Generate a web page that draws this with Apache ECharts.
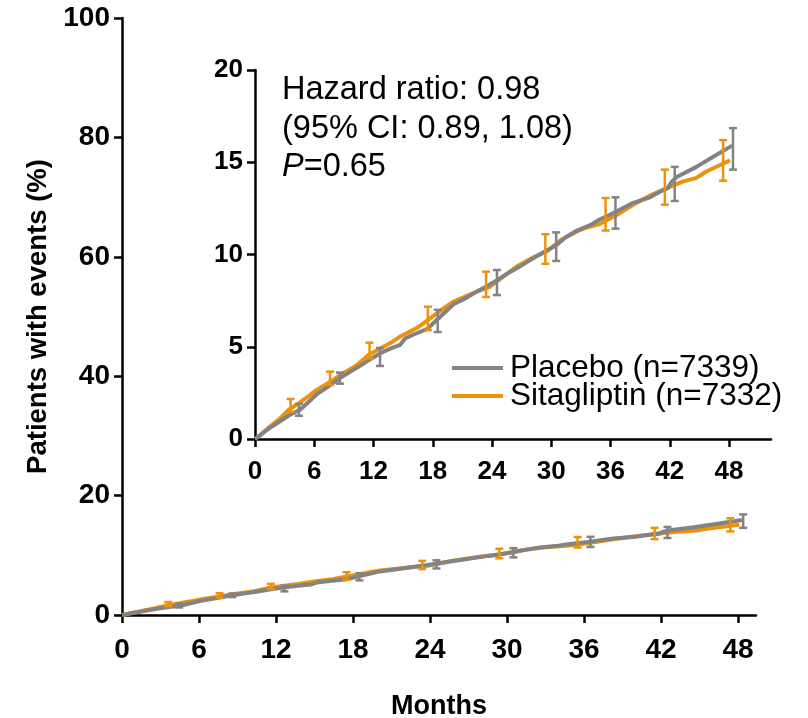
<!DOCTYPE html>
<html>
<head>
<meta charset="utf-8">
<script src="https://cdn.jsdelivr.net/npm/echarts@6/dist/echarts.min.js"></script>
<style>
  html, body { margin: 0; padding: 0; background: #fff; }
  #chart { width: 808px; height: 718px; }
</style>
</head>
<body>
<div id="chart"></div>
<script>
var monthTicks = [0, 6, 12, 18, 24, 30, 36, 42, 48];

var placeboMonths = [0, 0.5, 1.5, 2.5, 3.5, 4.6, 5.5, 6.2, 7.3, 8.6, 9.5, 10.6, 11.6, 12.7, 13.7, 14.7, 15.2, 16.0, 17.4, 18.7, 20.1, 21.4, 22.5, 23.4, 24.5, 25.5, 26.5, 28.5, 30.5, 31.5, 32.6, 34.0, 34.9, 36.3, 38.3, 40.0, 41.0, 41.8, 42.2, 42.7, 44.7, 46.4, 48.3];
var placeboPct = [0, 0.2, 0.6, 0.95, 1.3, 1.6, 2.05, 2.4, 2.8, 3.3, 3.6, 3.95, 4.3, 4.65, 4.9, 5.1, 5.45, 5.65, 5.95, 6.6, 7.3, 7.65, 8.0, 8.25, 8.6, 8.95, 9.25, 9.9, 10.5, 10.95, 11.3, 11.6, 11.9, 12.25, 12.8, 13.1, 13.4, 13.6, 13.95, 14.2, 14.75, 15.3, 15.9];

var sitaMonths = [0, 0.5, 1.7, 2.5, 3.4, 4.6, 5.5, 6.2, 7.3, 8.9, 10.3, 11.6, 12.5, 13.7, 14.7, 15.4, 16.5, 17.4, 18.5, 19.4, 20.1, 21.4, 22.5, 23.8, 25.0, 26.5, 28.0, 29.5, 31.0, 32.6, 33.5, 34.9, 36.5, 38.3, 40.0, 41.7, 43.3, 44.7, 45.7, 47.1, 48.1];
var sitaPct = [0, 0.2, 0.76, 1.1, 1.57, 2.0, 2.35, 2.65, 3.0, 3.55, 4.0, 4.6, 4.85, 5.2, 5.55, 5.75, 6.05, 6.4, 6.85, 7.2, 7.45, 7.75, 8.0, 8.25, 8.75, 9.35, 9.8, 10.15, 10.8, 11.25, 11.45, 11.65, 12.1, 12.7, 13.2, 13.6, 13.95, 14.15, 14.5, 14.85, 15.1];

var placeboErrMonths = [4.45, 8.6, 12.66, 18.5, 24.5, 30.5, 36.5, 42.5, 48.4];
var placeboLow = [1.26, 3.0, 3.96, 5.8, 7.8, 9.65, 11.4, 12.9, 14.6];
var placeboHigh = [1.9, 3.6, 4.93, 7.0, 9.16, 11.2, 13.1, 14.75, 16.85];

var sitaErrMonths = [3.6, 7.6, 11.6, 17.5, 23.4, 29.4, 35.5, 41.5, 47.4];
var sitaLow = [1.48, 2.93, 4.37, 5.9, 7.7, 9.5, 11.3, 12.7, 14.0];
var sitaHigh = [2.17, 3.65, 5.22, 7.17, 9.07, 11.1, 13.06, 14.6, 16.2];

var placeboName = 'Placebo (n=7339)';
var sitaName = 'Sitagliptin (n=7332)';
var grayColor = '#838383';
var orangeColor = '#EC930E';
var fontFamily = '"Liberation Sans", Arial, sans-serif';

function pairs(xs, ys) {
    return xs.map(function (x, i) { return [x, ys[i]]; });
}
function triples(xs, lo, hi) {
    return xs.map(function (x, i) { return [x, lo[i], hi[i]]; });
}

function ciBars(params, api) {
    var x = api.value(0);
    var lo = api.coord([x, api.value(1)]);
    var hi = api.coord([x, api.value(2)]);
    var w = 4;
    var style = { stroke: api.visual('color'), lineWidth: 2.5 };
    return {
        type: 'group',
        children: [
            { type: 'line', shape: { x1: lo[0], y1: lo[1], x2: hi[0], y2: hi[1] }, style: style },
            { type: 'line', shape: { x1: lo[0] - w, y1: lo[1], x2: lo[0] + w, y2: lo[1] }, style: style },
            { type: 'line', shape: { x1: hi[0] - w, y1: hi[1], x2: hi[0] + w, y2: hi[1] }, style: style }
        ]
    };
}

function xAxisCfg(gridIndex, max, fontSize, margin) {
    return {
        type: 'value',
        gridIndex: gridIndex,
        min: 0,
        max: max,
        splitLine: { show: false },
        axisLine: { lineStyle: { color: '#000', width: 2.5 } },
        axisTick: { customValues: monthTicks, length: 8, lineStyle: { color: '#000', width: 2.5 } },
        axisLabel: { customValues: monthTicks, fontSize: fontSize, fontWeight: 'bold', color: '#000', fontFamily: fontFamily, margin: margin }
    };
}

function yAxisCfg(gridIndex, max, interval, fontSize) {
    return {
        type: 'value',
        gridIndex: gridIndex,
        min: 0,
        max: max,
        interval: interval,
        splitLine: { show: false },
        axisLine: { show: true, lineStyle: { color: '#000', width: 2.5 } },
        axisTick: { show: true, length: 8, lineStyle: { color: '#000', width: 2.5 } },
        axisLabel: { fontSize: fontSize, fontWeight: 'bold', color: '#000', fontFamily: fontFamily, margin: 12 }
    };
}

function lineSeries(name, color, data, idx) {
    return {
        name: name,
        type: 'line',
        xAxisIndex: idx,
        yAxisIndex: idx,
        data: data,
        color: color,
        showSymbol: false,
        lineStyle: { color: color, width: 4 },
        z: 2
    };
}

function ciSeries(name, color, data, idx) {
    return {
        name: name,
        type: 'custom',
        xAxisIndex: idx,
        yAxisIndex: idx,
        itemStyle: { color: color },
        renderItem: ciBars,
        encode: { x: 0, y: [1, 2] },
        data: data,
        z: 3
    };
}

var chart = echarts.init(document.getElementById('chart'));

var mainX = xAxisCfg(0, 49.4, 28, 21);
mainX.name = 'Months';
mainX.nameLocation = 'middle';
mainX.nameGap = 78;
mainX.nameTextStyle = { fontSize: 27, fontWeight: 'bold', color: '#000', fontFamily: fontFamily };

var mainY = yAxisCfg(0, 100, 20, 28);
mainY.name = 'Patients with events (%)';
mainY.nameLocation = 'middle';
mainY.nameGap = 67;
mainY.nameTextStyle = { fontSize: 27.5, fontWeight: 'bold', color: '#000', fontFamily: fontFamily };

var placeboLine = pairs(placeboMonths, placeboPct);
var sitaLine = pairs(sitaMonths, sitaPct);
var placeboCI = triples(placeboErrMonths, placeboLow, placeboHigh);
var sitaCI = triples(sitaErrMonths, sitaLow, sitaHigh);

var option = {
    animation: false,
    backgroundColor: '#fff',
    textStyle: { fontFamily: fontFamily },
    grid: [
        { left: 122, top: 18, width: 634, height: 597, outerBoundsMode: 'none' },
        { left: 255, top: 70, width: 516, height: 369, outerBoundsMode: 'none' }
    ],
    xAxis: [mainX, xAxisCfg(1, 52.25, 26, 20)],
    yAxis: [mainY, yAxisCfg(1, 20, 5, 26)],
    legend: {
        data: [placeboName, sitaName],
        orient: 'vertical',
        left: 447,
        top: 347,
        icon: 'rect',
        itemWidth: 51,
        itemHeight: 4,
        itemGap: -4,
        textStyle: { fontSize: 31.5, color: '#000', fontFamily: fontFamily, padding: [0, 0, 0, 2] }
    },
    graphic: [{
        type: 'text',
        left: 282,
        top: 71,
        style: {
            text: 'Hazard ratio: 0.98\n(95% CI: 0.89, 1.08)\n{i|P}=0.65',
            font: '32.5px ' + fontFamily,
            fill: '#000',
            lineHeight: 38.5,
            rich: { i: { fontStyle: 'italic', fontSize: 32.5, lineHeight: 38.5, fontFamily: fontFamily } }
        }
    }],
    series: [
        lineSeries(sitaName, orangeColor, sitaLine, 0),
        lineSeries(placeboName, grayColor, placeboLine, 0),
        ciSeries('Sitagliptin CI', orangeColor, sitaCI, 0),
        ciSeries('Placebo CI', grayColor, placeboCI, 0),
        lineSeries(sitaName, orangeColor, sitaLine, 1),
        lineSeries(placeboName, grayColor, placeboLine, 1),
        ciSeries('Sitagliptin CI', orangeColor, sitaCI, 1),
        ciSeries('Placebo CI', grayColor, placeboCI, 1)
    ]
};
chart.setOption(option);
</script>
</body>
</html>
